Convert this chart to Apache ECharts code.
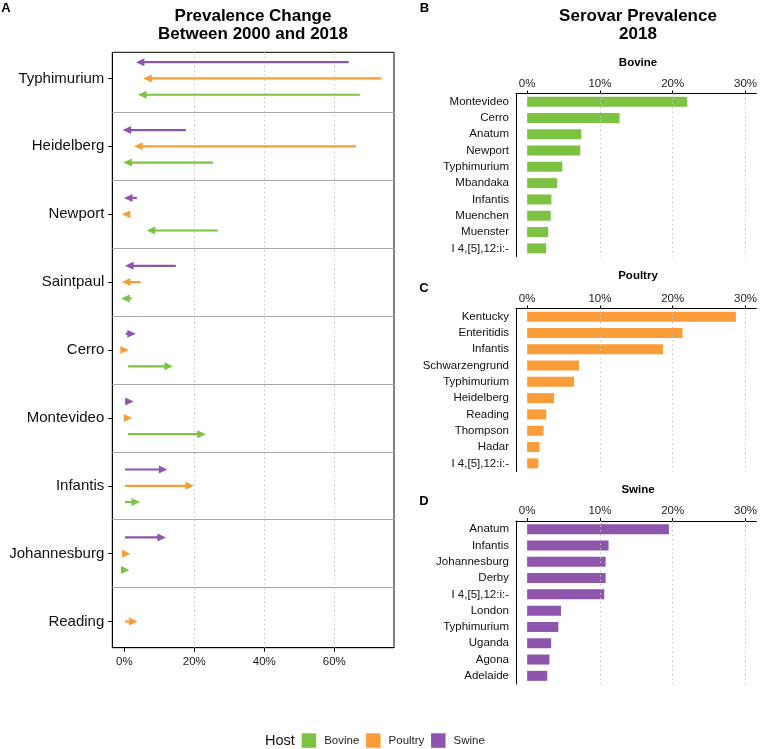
<!DOCTYPE html>
<html>
<head>
<meta charset="utf-8">
<script src="https://cdn.jsdelivr.net/npm/echarts@6/dist/echarts.min.js"></script>
<style>
  html, body { margin: 0; padding: 0; background: #fff; }
  #chart { width: 760px; height: 749px; }
</style>
</head>
<body>
<div id="chart"></div>
<script>
// ---------- Panel A data: prevalence (%) in 2000 and 2018 ----------
const serovars = ['Typhimurium', 'Heidelberg', 'Newport', 'Saintpaul', 'Cerro', 'Montevideo', 'Infantis', 'Johannesburg', 'Reading'];
const swine2000   = [64.1, 17.6, 3.6, 14.7, 0.4, 0.4, 0.2, 0.2, null];
const swine2018   = [4.4, 0.6, 1.0, 1.3, 2.2, 1.6, 11.2, 10.8, null];
const poultry2000 = [73.5, 66.2, 1.0, 4.7, 0.0, 0.0, 0.2, 0.0, 0.2];
const poultry2018 = [6.5, 3.9, 0.4, 0.4, 0.2, 1.2, 18.8, 0.7, 2.7];
const bovine2000  = [67.3, 25.3, 26.7, 2.1, 1.1, 1.1, 0.2, 0.0, null];
const bovine2018  = [5.0, 0.8, 7.5, 0.2, 12.8, 22.2, 3.4, 0.4, null];

// ---------- Panels B-D data: serovar prevalence 2018 (%) ----------
const bovineSerovars  = ['Montevideo', 'Cerro', 'Anatum', 'Newport', 'Typhimurium', 'Mbandaka', 'Infantis', 'Muenchen', 'Muenster', 'I 4,[5],12:i:-'];
const bovineValues    = [22.0, 12.7, 7.44, 7.3, 4.83, 4.11, 3.34, 3.24, 2.89, 2.62];
const poultrySerovars = ['Kentucky', 'Enteritidis', 'Infantis', 'Schwarzengrund', 'Typhimurium', 'Heidelberg', 'Reading', 'Thompson', 'Hadar', 'I 4,[5],12:i:-'];
const poultryValues   = [28.68, 21.34, 18.67, 7.13, 6.45, 3.7, 2.62, 2.26, 1.71, 1.54];
const swineSerovars   = ['Anatum', 'Infantis', 'Johannesburg', 'Derby', 'I 4,[5],12:i:-', 'London', 'Typhimurium', 'Uganda', 'Agona', 'Adelaide'];
const swineValues     = [19.48, 11.19, 10.78, 10.78, 10.6, 4.65, 4.29, 3.3, 3.07, 2.76];

// ---------- tick labels ----------
const ticksA = [0, 20, 40, 60];
const ticksBars = [0, 10, 20, 30];
const hosts = ['Bovine', 'Poultry', 'Swine'];

const COLORS = { Bovine: '#7dc243', Poultry: '#f89d38', Swine: '#8e55ad' };
const FONT = 'Liberation Sans, Arial, Helvetica, sans-serif';

const chart = echarts.init(document.getElementById('chart'), null, { renderer: 'canvas' });

function arrowData(from, to) {
  const out = [];
  serovars.forEach((s, i) => {
    if (from[i] != null && to[i] != null) out.push([from[i], to[i], i]);
  });
  return out;
}

function arrowSeries(name, from, to, dodge) {
  const color = COLORS[name];
  return {
    type: 'custom',
    name: name,
    xAxisIndex: 0, yAxisIndex: 0,
    itemStyle: { color: color },
    encode: { x: [0, 1], y: 2 },
    z: 5,
    renderItem: function (params, api) {
      const a = api.value(0), b = api.value(1), idx = api.value(2);
      const yv = idx + dodge;
      const p0 = api.coord([a, yv]);
      const p1 = api.coord([b, yv]);
      const dir = b >= a ? 1 : -1;
      const tip = p1[0] + dir * 3.8;
      const base = tip - dir * 8.5;
      const y = p0[1];
      const children = [];
      if ((base - p0[0]) * dir > 0) {
        children.push({
          type: 'line',
          shape: { x1: p0[0], y1: y, x2: base + dir * 1, y2: y },
          style: { stroke: color, lineWidth: 2.2 }
        });
      }
      children.push({
        type: 'polygon',
        shape: { points: [[tip, y], [base, y - 4], [base, y + 4]] },
        style: { fill: color }
      });
      return { type: 'group', children: children };
    },
    data: arrowData(from, to)
  };
}

const barGrids = [
  { top: 93.5, name: 'Bovine', cats: bovineSerovars, vals: bovineValues },
  { top: 308.5, name: 'Poultry', cats: poultrySerovars, vals: poultryValues },
  { top: 521, name: 'Swine', cats: swineSerovars, vals: swineValues }
];

const grids = [
  { left: 112.3, top: 52.3, width: 281.7, height: 595.4, show: true, borderColor: '#000', borderWidth: 1, backgroundColor: 'transparent' }
];
const xAxes = [{
  type: 'value', gridIndex: 0, min: -3.43, max: 77.06, position: 'bottom',
  axisLine: { show: true, onZero: false, lineStyle: { color: '#000', width: 1 } },
  axisTick: { show: true, customValues: ticksA, length: 4, lineStyle: { color: '#000' } },
  axisLabel: { customValues: ticksA, formatter: '{value}%', fontSize: 11.5, color: '#222', margin: 8, fontFamily: FONT },
  splitLine: { show: false }
}];
const yAxes = [{
  type: 'value', gridIndex: 0, inverse: true, min: -0.385, max: 8.385,
  axisLine: { show: true, onZero: false, lineStyle: { color: '#000', width: 1 } },
  axisTick: { show: true, customValues: serovars.map((s, i) => i), length: 4, lineStyle: { color: '#000' } },
  axisLabel: { customValues: serovars.map((s, i) => i), formatter: v => serovars[Math.round(v)], fontSize: 15, color: '#111', margin: 8, fontFamily: FONT },
  splitLine: { show: false }
}];

const series = [
  {
    type: 'line', name: 'gridA', xAxisIndex: 0, yAxisIndex: 0, data: [], z: 1, silent: true,
    markLine: {
      silent: true, symbol: ['none', 'none'], label: { show: false }, animation: false,
      data: [
        ...[0.5, 1.5, 2.5, 3.5, 4.5, 5.5, 6.5, 7.5].map(v => ({ yAxis: v, lineStyle: { color: '#a8a8a8', type: 'solid', width: 1 } })),
        ...[20, 40, 60].map(v => ({ xAxis: v, lineStyle: { color: '#c4c4c4', type: [1.5, 3], width: 1 } }))
      ]
    }
  },
  arrowSeries('Swine', swine2000, swine2018, -0.24),
  arrowSeries('Poultry', poultry2000, poultry2018, 0),
  arrowSeries('Bovine', bovine2000, bovine2018, 0.24)
];

barGrids.forEach((g, k) => {
  const gi = k + 1;
  grids.push({ left: 516, top: g.top, width: 244, height: 163 });
  xAxes.push({
    type: 'value', gridIndex: gi, min: -1.53, max: 31.49, position: 'top',
    axisLine: { show: true, onZero: false, lineStyle: { color: '#000', width: 1 } },
    axisTick: { show: true, customValues: ticksBars, length: 3, lineStyle: { color: '#000' } },
    axisLabel: { customValues: ticksBars, formatter: '{value}%', fontSize: 11.5, color: '#222', margin: 4, fontFamily: FONT },
    splitLine: { show: false }
  });
  yAxes.push({
    type: 'category', gridIndex: gi, inverse: true, data: g.cats,
    axisLine: { show: true, onZero: false, lineStyle: { color: '#000', width: 1 } },
    axisTick: { show: false },
    axisLabel: { fontSize: 11.5, color: '#111', margin: 7, fontFamily: FONT },
    splitLine: { show: false }
  });
  series.push({
    type: 'line', name: 'grid' + g.name, xAxisIndex: gi, yAxisIndex: gi, data: [], z: 1, silent: true,
    markLine: {
      silent: true, symbol: ['none', 'none'], label: { show: false }, animation: false,
      data: [10, 20, 30].map(v => ({ xAxis: v, lineStyle: { color: '#c4c4c4', type: [1.5, 3], width: 1 } }))
    }
  });
  series.push({
    type: 'bar', name: g.name, xAxisIndex: gi, yAxisIndex: gi, data: g.vals, barWidth: 10, z: 3,
    itemStyle: { color: COLORS[g.name] }
  });
});

function txt(text, x, y, size, bold, extra) {
  return Object.assign({
    type: 'text', x: x, y: y, silent: true,
    style: Object.assign({
      text: text, fontSize: size, fontWeight: bold ? 'bold' : 'normal', fontFamily: FONT,
      fill: '#000', textAlign: 'center', textVerticalAlign: 'middle'
    }, extra || {})
  });
}

const graphics = [
  txt('A', 6, 8.5, 13, true),
  txt('B', 424.5, 8, 13, true),
  txt('C', 424, 288.5, 13, true),
  txt('D', 424, 501, 13, true),
  txt('Prevalence Change\nBetween 2000 and 2018', 253, 7.5, 17, true, { textVerticalAlign: 'top', lineHeight: 18 }),
  txt('Serovar Prevalence\n2018', 638, 7.5, 17, true, { textVerticalAlign: 'top', lineHeight: 18 }),
  txt('Bovine', 638, 63, 11.5, true),
  txt('Poultry', 638, 276, 11.5, true),
  txt('Swine', 638, 490, 11.5, true),
  txt('Host', 265, 741, 14.5, false, { textAlign: 'left', fill: '#111' })
];

chart.setOption({
  animation: false,
  textStyle: { fontFamily: FONT },
  grid: grids,
  xAxis: xAxes,
  yAxis: yAxes,
  legend: {
    left: 301.7, top: 733.3, padding: 0, itemWidth: 14.5, itemHeight: 14.5, itemGap: 6.7,
    icon: 'rect', selectedMode: true,
    textStyle: { fontSize: 11.5, color: '#222', fontFamily: FONT, padding: [0, 0, 0, 3] },
    data: hosts.map(h => ({ name: h, itemStyle: { color: COLORS[h] } }))
  },
  graphic: graphics,
  series: series
});
</script>
</body>
</html>
